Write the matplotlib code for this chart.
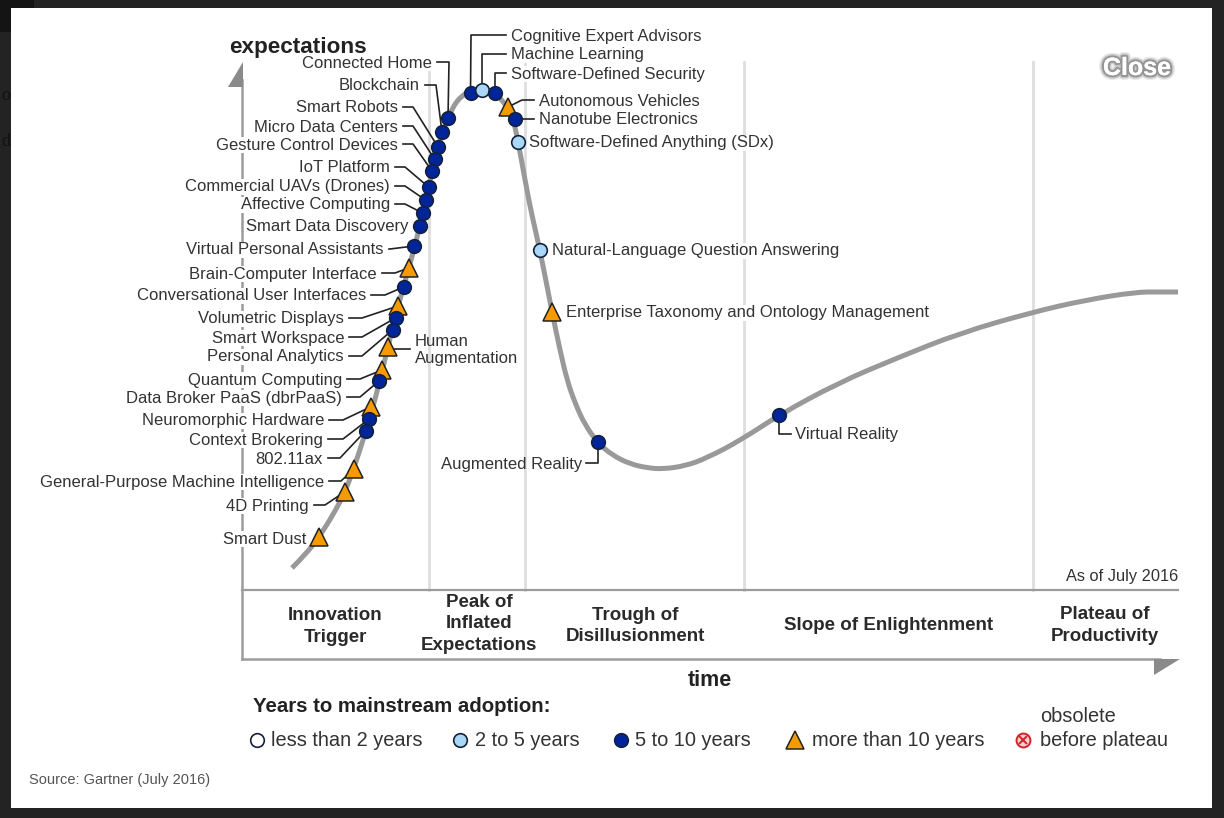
#!/usr/bin/env python3
# coding: utf-8

import matplotlib
matplotlib.use('Agg')
import matplotlib.pyplot as plt
import matplotlib.patheffects as pe
from matplotlib.patches import PathPatch, Polygon, Rectangle
from matplotlib.path import Path

plt.rcParams['font.family'] = ['Liberation Sans', 'DejaVu Sans']

# hype curve (x = time, y = expectations, image units)
curve_x = [292, 306, 319, 333, 345, 354, 366, 375, 388, 398, 409, 420, 432, 442, 452, 462, 472, 482,
           494, 505, 513, 518, 525, 532, 540, 552, 560, 567, 575, 585, 598, 612, 630, 648, 663,
           685, 707, 741, 779, 838, 897, 960, 1033, 1086, 1136, 1160, 1178]
curve_y = [568, 554, 537, 515, 492, 468, 431, 400, 347, 306, 268, 226, 171, 132, 108, 95, 91, 90,
           93, 103, 118, 141, 180, 216, 250, 312, 350, 380, 403, 425, 443, 455, 464, 468, 469,
           466, 458, 440, 415, 383, 358, 333, 312, 300, 292, 292, 292]

phase_x = [429, 525, 743.5, 1033]

# technologies on the curve
left_names = ['Connected Home', 'Blockchain', 'Smart Robots', 'Micro Data Centers', 'Gesture Control Devices',
              'IoT Platform', 'Commercial UAVs (Drones)', 'Affective Computing', 'Smart Data Discovery',
              'Virtual Personal Assistants', 'Brain-Computer Interface', 'Conversational User Interfaces',
              'Volumetric Displays', 'Smart Workspace', 'Personal Analytics', 'Quantum Computing',
              'Data Broker PaaS (dbrPaaS)', 'Neuromorphic Hardware', 'Context Brokering', '802.11ax',
              'General-Purpose Machine Intelligence', '4D Printing', 'Smart Dust']
left_kind = ['dark', 'dark', 'dark', 'dark', 'dark', 'dark', 'dark', 'dark', 'dark', 'dark', 'tri', 'dark',
             'tri', 'dark', 'dark', 'tri', 'dark', 'tri', 'dark', 'dark', 'tri', 'tri', 'tri']
left_x = [448, 442, 438, 434.5, 432, 428.5, 425.5, 422.5, 419.5, 414, 408.5, 403.5,
          398, 395.5, 392.5, 382, 379, 370.5, 369, 365.5, 354, 344.5, 319]
left_y = [118, 132, 147, 159, 171, 187, 200, 213, 226, 246, 268, 287,
          306, 318, 330, 370, 381, 407, 419, 431, 469, 492, 537]
left_text_x = [432, 420, 398, 398, 398, 390, 390, 390, 408, 384, 377, 366,
               344, 344, 344, 342, 342, 324, 323, 323, 324, 309, 306]
left_text_y = [62, 85, 107, 126, 144, 167, 186, 204, 226, 249, 273, 295,
               318, 337, 356, 379, 397, 420, 439, 458, 481, 505, 538]
left_elbow_x = [449, 436, 413, 413, 413, 405, 405, 405, None, 390, 395, 385,
                362, 362, 362, 360, 360, 343, 343, 340, 341, 325, None]

right_names = ['Cognitive Expert Advisors', 'Machine Learning', 'Software-Defined Security',
               'Autonomous Vehicles', 'Nanotube Electronics', 'Software-Defined Anything (SDx)',
               'Natural-Language Question Answering', 'Enterprise Taxonomy and Ontology Management']
right_kind = ['dark', 'light', 'dark', 'tri', 'dark', 'light', 'light', 'tri']
right_x = [470.5, 482, 495, 508, 514.5, 518, 540, 552]
right_y = [93, 90, 93, 107, 119, 142, 250, 312]
right_text_x = [511, 511, 511, 539, 539, 529, 552, 566]
right_text_y = [35, 54, 73, 100, 119, 142, 250, 312]
right_elbow_x = [471, 482, 495, 522, 515, None, None, None]

phase_names = ['Innovation\nTrigger', 'Peak of\nInflated\nExpectations', 'Trough of\nDisillusionment',
               'Slope of Enlightenment', 'Plateau of\nProductivity']
phase_label_x = [335, 479, 635, 889, 1105]
phase_label_y = [626.5, 624, 626, 626, 625.5]

legend_names = ['less than 2 years', '2 to 5 years', '5 to 10 years', 'more than 10 years', 'before plateau']
legend_kind = ['white', 'light', 'dark', 'tri', 'obsolete']
legend_marker_x = [257, 460, 621, 795, 1023]
legend_text_x = [271, 475, 635, 812, 1040]

GREY = '#9c9c9c'
TEXT = '#333333'
LEADER = '#222222'
FS = 12
face = {'white': 'white', 'light': '#a8d8f5', 'dark': '#00259a', 'tri': '#f59b00'}


def marker(ax, x, y, kind):
    if kind == 'tri':
        ax.plot(x, y, '^', ms=12.5, mfc=face[kind], mec='#222222', mew=1.1, zorder=6)
    elif kind == 'obsolete':
        ax.plot(x, y, 'o', ms=10, mfc='#f7d0d0', mec='#d8202a', mew=1.4, zorder=6)
        ax.plot(x, y, 'x', ms=5.5, mec='#d8202a', mew=1.4, zorder=7)
    else:
        ax.plot(x, y, 'o', ms=9.8, mfc=face[kind], mec='#14213d', mew=1.2, zorder=6)


def smooth_path(xs, ys):
    # quadratic segments through the midpoints, so the knots don't show
    pts = list(zip(xs, ys))
    verts = [pts[0]]
    codes = [Path.MOVETO]
    for p, q in zip(pts[1:-1], pts[2:]):
        verts += [p, ((p[0] + q[0]) / 2, (p[1] + q[1]) / 2)]
        codes += [Path.CURVE3, Path.CURVE3]
    verts.append(pts[-1])
    codes.append(Path.LINETO)
    return Path(verts, codes)


fig = plt.figure(figsize=(12.24, 8.18), dpi=100, facecolor='#232323')
ax = fig.add_axes([0, 0, 1, 1])
ax.set_xlim(0, 1224)
ax.set_ylim(818, 0)
ax.axis('off')

# page behind the popup
ax.add_patch(Rectangle((0, 0), 34, 8, fc='#141414', ec='none', zorder=1))
ax.add_patch(Rectangle((0, 0), 11, 32, fc='#141414', ec='none', zorder=1))
ax.text(1, 95, 'o', fontsize=13, family='Liberation Serif', color='#111111', ha='left', va='center')
ax.text(1, 141, 'd', fontsize=13, family='Liberation Serif', color='#111111', ha='left', va='center')
ax.add_patch(Rectangle((11, 8), 1201, 800, fc='white', ec='none', zorder=1))

# axes and phase dividers
for x in phase_x:
    ax.plot([x, x], [62, 590], color='#dedede', lw=2, zorder=2)
ax.plot([242, 242], [80, 659], color=GREY, lw=1.8, zorder=2)
ax.plot([242, 1160], [659, 659], color=GREY, lw=1.8, zorder=2)
ax.plot([242, 1178], [590, 590], color=GREY, lw=1.6, zorder=2)
ax.add_patch(Polygon([(243, 62), (228, 87), (243, 87)], fc='#8a8a8a', ec='none', zorder=3))
ax.add_patch(Polygon([(1180, 659), (1154, 659), (1154, 675)], fc='#8a8a8a', ec='none', zorder=3))

ax.add_patch(PathPatch(smooth_path(curve_x, curve_y), fc='none', ec='#999999', lw=3.6,
                       capstyle='butt', joinstyle='round', zorder=3))

# left hand labels with leader lines
for name, kind, x, y, tx, ty, ex in zip(left_names, left_kind, left_x, left_y, left_text_x, left_text_y, left_elbow_x):
    ax.text(tx, ty + 1, name, fontsize=FS, color=TEXT, ha='right', va='center', zorder=4,
            bbox=dict(fc='white', ec='none', pad=0.6))
    if ex is not None:
        ax.plot([tx + 5, ex, x], [ty, ty, y], color=LEADER, lw=1.2, zorder=5)
    marker(ax, x, y, kind)

# right hand labels
for name, kind, x, y, tx, ty, ex in zip(right_names, right_kind, right_x, right_y, right_text_x, right_text_y, right_elbow_x):
    ax.text(tx, ty + 1, name, fontsize=FS, color=TEXT, ha='left', va='center', zorder=4,
            bbox=dict(fc='white', ec='none', pad=0.6))
    if ex is not None:
        ax.plot([tx - 5, ex, x], [ty, ty, y], color=LEADER, lw=1.2, zorder=5)
    marker(ax, x, y, kind)

# the three labels with their own layout
marker(ax, 388, 347, 'tri')
ax.plot([388, 410], [349, 349], color=LEADER, lw=1.2, zorder=5)
ax.text(415, 350, 'Human\nAugmentation', fontsize=FS, color=TEXT, ha='left', va='center', linespacing=1.25, zorder=4)

marker(ax, 598, 442, 'dark')
ax.plot([586, 598, 598], [463, 463, 442], color=LEADER, lw=1.2, zorder=5)
ax.text(582, 464, 'Augmented Reality', fontsize=FS, color=TEXT, ha='right', va='center', zorder=4)

marker(ax, 779, 415, 'dark')
ax.plot([779, 779, 791], [415, 434, 434], color=LEADER, lw=1.2, zorder=5)
ax.text(795, 435, 'Virtual Reality', fontsize=FS, color=TEXT, ha='left', va='center', zorder=4)

# axis titles and phases
ax.text(298, 48, 'expectations', fontsize=16.2, fontweight='bold', color='#222222', ha='center', va='center', zorder=4)
ax.text(710, 680, 'time', fontsize=15.5, fontweight='bold', color='#222222', ha='center', va='center', zorder=4)
for name, x, y in zip(phase_names, phase_label_x, phase_label_y):
    ax.text(x, y, name, fontsize=13.5, fontweight='bold', color='#2a2a2a', ha='center', va='center',
            linespacing=1.36, zorder=4)
ax.text(1178, 576, 'As of July 2016', fontsize=11.8, color=TEXT, ha='right', va='center', zorder=4)

# legend
ax.text(253, 706, 'Years to mainstream adoption:', fontsize=14.7, fontweight='bold', color='#222222', ha='left', va='center', zorder=4)
for name, kind, mx, tx in zip(legend_names, legend_kind, legend_marker_x, legend_text_x):
    marker(ax, mx, 739.5, kind)
    ax.text(tx, 741, name, fontsize=14.4, color=TEXT, ha='left', va='center', zorder=4)
ax.text(1040, 716, 'obsolete', fontsize=14.4, color=TEXT, ha='left', va='center', zorder=4)

ax.text(29, 780, 'Source: Gartner (July 2016)', fontsize=10.5, color='#555555', ha='left', va='center', zorder=4)

# close button of the popup, white on white with a soft shadow
ax.text(1137, 68, 'Close', fontsize=18, fontweight='bold', color='white', ha='center', va='center', zorder=8,
        path_effects=[pe.withStroke(linewidth=7, foreground='#000000', alpha=0.08),
                      pe.withStroke(linewidth=5, foreground='#000000', alpha=0.15),
                      pe.withStroke(linewidth=3, foreground='#000000', alpha=0.25),
                      pe.Normal()])

fig.savefig('out.png', dpi=100, facecolor=fig.get_facecolor())
